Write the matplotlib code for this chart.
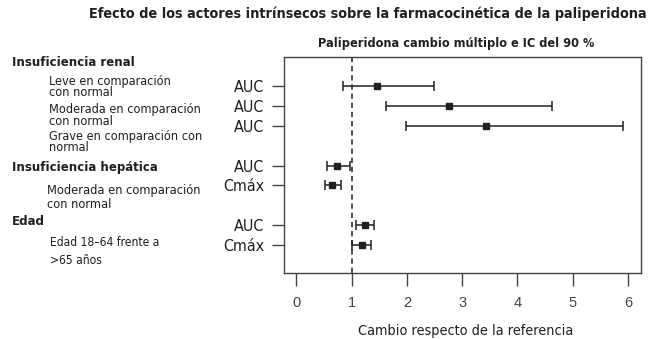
import matplotlib
matplotlib.use("Agg")
import matplotlib.pyplot as plt

# data
row_labels = ["AUC", "AUC", "AUC", "AUC", "Cmáx", "AUC", "Cmáx"]
row_pos = [1, 2, 3, 5, 6, 8, 9]
ratio = [1.46, 2.76, 3.43, 0.74, 0.65, 1.24, 1.19]
ci_low = [0.84, 1.62, 1.98, 0.55, 0.52, 1.08, 1.01]
ci_high = [2.49, 4.63, 5.91, 0.96, 0.81, 1.41, 1.35]
x_ticks = [0, 1, 2, 3, 4, 5, 6]

ink = "#231f20"
W, H = 649, 339

plt.rcParams["font.family"] = "DejaVu Sans"
plt.rcParams["font.stretch"] = "condensed"

fig = plt.figure(figsize=(W / 100, H / 100), dpi=100)
ax = fig.add_axes([284 / W, 1 - 272.5 / H, (640.7 - 284) / W, (272.5 - 57.3) / H])
renderer = fig.canvas.get_renderer()

err = [[r - lo for r, lo in zip(ratio, ci_low)], [hi - r for r, hi in zip(ratio, ci_high)]]
ax.errorbar(ratio, row_pos, xerr=err, fmt="s", color=ink, ms=4, lw=1.1,
            capsize=3.6, capthick=1.1, elinewidth=1.1)
ax.axvline(1, color=ink, lw=1.1, ls=(0, (3.5, 2.5)))

ax.set_xlim(-0.226, 6.23)
ax.set_ylim(10.39, -0.46)
ax.set_xticks(x_ticks)
ax.set_xticklabels([str(t) for t in x_ticks], fontsize=10.5, color="#444444",
                   family="Liberation Sans", fontstretch="normal")
ax.set_yticks(row_pos)
ax.set_yticklabels(row_labels, fontsize=11.5, color=ink)
ax.tick_params(axis="both", length=9, width=1, color="#444444", pad=5)
ax.tick_params(axis="x", pad=8)
for s in ax.spines.values():
    s.set_color("#444444")
    s.set_linewidth(1)


def ftext(x, y, s, size, width=None, **kw):
    # place text in pixel coords; optionally resize to a pixel width
    t = fig.text(x / W, 1 - y / H, s, va="center", color=ink, fontsize=size, **kw)
    if width:
        w = t.get_window_extent(renderer).width
        t.set_fontsize(size * width / w)
    return t


ftext(89, 14, "Efecto de los actores intrínsecos sobre la farmacocinética de la paliperidona",
      12, 556, fontweight="bold")
ftext(318, 43, "Paliperidona cambio múltiplo e IC del 90 %", 11, 275, fontweight="bold")
ftext(358, 331.5, "Cambio respecto de la referencia", 11, 215)

head = ftext(12, 167.3, "Insuficiencia hepática", 11, 145, fontweight="bold")
hs = head.get_fontsize()
ftext(12, 62.7, "Insuficiencia renal", hs, fontweight="bold")
ftext(12, 221.7, "Edad", hs, fontweight="bold")

renal = ftext(49, 141.8, "Grave en comparación con\nnormal", 10, 153, linespacing=0.85)
rs = renal.get_fontsize()
ftext(49, 87.2, "Leve en comparación\ncon normal", rs, linespacing=0.85)
ftext(49, 115.5, "Moderada en comparación\ncon normal", rs, linespacing=0.85)

hep = ftext(47, 190.7, "Moderada en comparación", 10, 154)
ftext(47, 205, "con normal", hep.get_fontsize())

age = ftext(50, 242.3, "Edad 18–64 frente a", 10, 110)
ftext(50, 260, ">65 años", age.get_fontsize())

fig.savefig("out.png", dpi=100)
